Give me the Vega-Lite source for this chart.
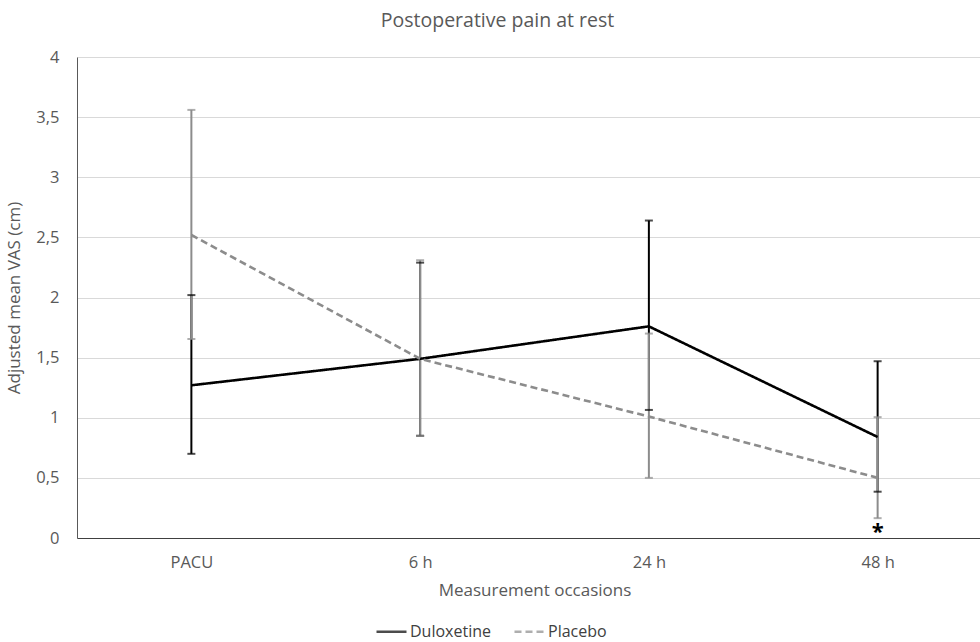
{
  "$schema": "https://vega.github.io/schema/vega-lite/v6.json",
  "width": 903,
  "height": 481,
  "autosize": {"type": "none"},
  "padding": {"left": 77, "top": 57, "right": 0, "bottom": 104},
  "background": "white",
  "title": {"text": "Postoperative pain at rest", "fontSize": 19.5, "font": "Open Sans", "fontWeight": "normal", "color": "#595959", "anchor": "middle", "dx": -31, "offset": 18},
  "config": {
    "view": {"stroke": null},
    "font": "Open Sans",
    "axis": {"labelFont": "Open Sans", "titleFont": "Open Sans", "labelColor": "#595959", "titleColor": "#595959", "labelFontSize": 16.5, "titleFontSize": 17, "titleFontWeight": "normal", "ticks": false}
  },
  "datasets": {
    "vals": [
      {"time": "PACU", "group": "Duloxetine", "mean": 1.27, "lo": 0.70, "hi": 2.02},
      {"time": "6 h", "group": "Duloxetine", "mean": 1.49, "lo": 0.85, "hi": 2.29},
      {"time": "24 h", "group": "Duloxetine", "mean": 1.76, "lo": 1.065, "hi": 2.64},
      {"time": "48 h", "group": "Duloxetine", "mean": 0.84, "lo": 0.385, "hi": 1.47},
      {"time": "PACU", "group": "Placebo", "mean": 2.52, "lo": 1.655, "hi": 3.56},
      {"time": "6 h", "group": "Placebo", "mean": 1.49, "lo": 0.85, "hi": 2.31},
      {"time": "24 h", "group": "Placebo", "mean": 1.01, "lo": 0.50, "hi": 1.70},
      {"time": "48 h", "group": "Placebo", "mean": 0.50, "lo": 0.165, "hi": 1.005}
    ],
    "marks": [
      {"time": "48 h", "y": 0.05, "label": "*"}
    ]
  },
  "data": {"name": "vals"},
  "encoding": {
    "x": {
      "field": "time", "type": "ordinal", "sort": ["PACU", "6 h", "24 h", "48 h"],
      "scale": {"type": "point", "padding": 0.5, "range": [0, 915]},
      "axis": {"title": "Measurement occasions", "labelAngle": 0, "labelPadding": 16, "titlePadding": 12, "domainColor": "#404040", "domainWidth": 1, "grid": false}
    }
  },
  "layer": [
    {
      "mark": {"type": "rule", "strokeWidth": 2},
      "encoding": {
        "y": {"field": "lo", "type": "quantitative"},
        "y2": {"field": "hi"},
        "color": {"field": "group", "type": "nominal", "scale": {"domain": ["Duloxetine", "Placebo"], "range": ["#000000", "#8c8c8c"]}}
      }
    },
    {
      "mark": {"type": "tick", "thickness": 2, "size": 8, "orient": "horizontal"},
      "encoding": {
        "y": {"field": "lo", "type": "quantitative"},
        "color": {"field": "group", "type": "nominal"}
      }
    },
    {
      "mark": {"type": "tick", "thickness": 2, "size": 8, "orient": "horizontal"},
      "encoding": {
        "y": {"field": "hi", "type": "quantitative"},
        "color": {"field": "group", "type": "nominal"}
      }
    },
    {
      "mark": {"type": "line", "strokeWidth": 2.6},
      "encoding": {
        "y": {
          "field": "mean", "type": "quantitative",
          "scale": {"domain": [0, 4], "nice": false},
          "axis": {"title": "Adjusted mean VAS (cm)", "values": [0, 0.5, 1, 1.5, 2, 2.5, 3, 3.5, 4], "format": "~g", "labelExpr": "replace(datum.label, '.', ',')", "labelPadding": 18, "titlePadding": 12, "gridColor": "#d9d9d9", "domainColor": "#595959", "domainWidth": 1}
        },
        "color": {
          "field": "group", "type": "nominal",
          "legend": {"title": null, "orient": "none", "direction": "horizontal", "legendX": 298, "legendY": 558, "symbolType": "stroke", "symbolSize": 900, "symbolStrokeWidth": 2.6, "labelFontSize": 16, "labelFont": "Open Sans", "labelColor": "#404040", "columnPadding": 18, "labelOffset": 2}
        },
        "strokeDash": {"field": "group", "type": "nominal", "scale": {"domain": ["Duloxetine", "Placebo"], "range": [[1, 0], [7, 4]]}, "legend": {"title": null, "orient": "none", "direction": "horizontal", "legendX": 298, "legendY": 558, "symbolType": "stroke", "symbolSize": 900, "symbolStrokeWidth": 2.6, "labelFontSize": 16, "labelFont": "Open Sans", "labelColor": "#404040", "columnPadding": 18, "labelOffset": 2}},
        "order": {"field": "group", "sort": "descending"}
      }
    },
    {
      "data": {"name": "marks"},
      "mark": {"type": "text", "fontSize": 22, "fontWeight": "bold", "color": "#000000", "baseline": "middle"},
      "encoding": {
        "y": {"field": "y", "type": "quantitative"},
        "text": {"field": "label"}
      }
    }
  ]
}
